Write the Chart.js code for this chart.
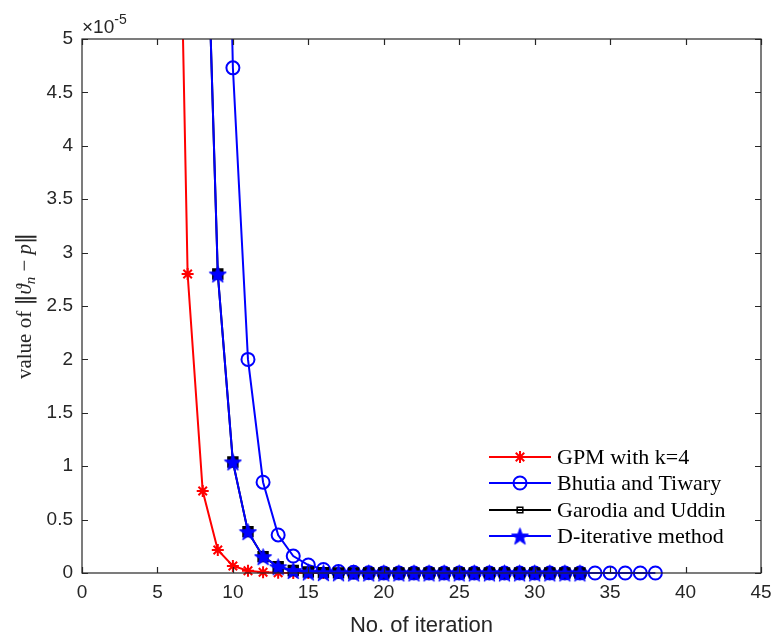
<!DOCTYPE html>
<html>
<head>
<meta charset="utf-8">
<script src="https://cdn.jsdelivr.net/npm/chart.js@4.4.0/dist/chart.umd.min.js"></script>
<style>
html, body { margin: 0; background: #fff; }
canvas { display: block; }
</style>
</head>
<body>
<canvas id="grafico" width="773" height="637"></canvas>
<script>
// first iteration of each series
const gpmStart = 6;
const bhutiaStart = 9;
const garodiaStart = 8;
const dIterStart = 8;

// ||theta_n - p|| per iteration
const gpmVals = [10.0e-5, 2.80e-5, 7.68e-6, 2.15e-6, 6.6e-7, 2.1e-7, 7e-8, 2.2e-8, 7e-9, 2e-9, 7e-10, 2e-10,
    0, 0, 0, 0, 0, 0, 0, 0, 0, 0, 0, 0, 0, 0, 0, 0];
const bhutiaVals = [11.2e-5, 4.73e-5, 2.00e-5, 8.5e-6, 3.56e-6, 1.59e-6, 7.5e-7, 3.3e-7, 1.4e-7, 6e-8, 2.5e-8,
    1e-8, 4e-9, 1.7e-9, 7e-10, 3e-10, 1e-10, 0, 0, 0, 0, 0, 0, 0, 0, 0, 0, 0, 0, 0];
const garodiaVals = [7.5e-5, 2.80e-5, 1.04e-5, 3.87e-6, 1.53e-6, 5.9e-7, 2.3e-7, 9e-8, 3.5e-8, 1.4e-8, 5e-9,
    2e-9, 8e-10, 3e-10, 1e-10, 0, 0, 0, 0, 0, 0, 0, 0, 0, 0, 0];
const dIterVals = [7.5e-5, 2.80e-5, 1.04e-5, 3.87e-6, 1.53e-6, 5.9e-7, 2.3e-7, 9e-8, 3.5e-8, 1.4e-8, 5e-9,
    2e-9, 8e-10, 3e-10, 1e-10, 0, 0, 0, 0, 0, 0, 0, 0, 0, 0, 0];

const seriesNames = ['GPM with k=4', 'Bhutia and Tiwary', 'Garodia and Uddin', 'D-iterative method'];

const xMin = 0, xMax = 45, xStep = 5;
const yMin = 0, yMax = 5e-5, yStep = 0.5e-5;

const toPoints = (start, vals) => vals.map((v, i) => ({ x: start + i, y: v }));

const axisColor = '#262626';
const sans = '"Liberation Sans", Arial, sans-serif';
const serif = '"Liberation Serif", "DejaVu Serif", serif';

// filled pentagram marker
function pentagram(size, color) {
    const c = document.createElement('canvas');
    c.width = size;
    c.height = size;
    const g = c.getContext('2d');
    const R = size / 2 - 0.5, r = R * 0.4;
    g.beginPath();
    for (let i = 0; i < 10; i++) {
        const a = -Math.PI / 2 + i * Math.PI / 5;
        const rad = i % 2 ? r : R;
        const px = size / 2 + rad * Math.cos(a), py = size / 2 + 1 + rad * Math.sin(a);
        if (i === 0) g.moveTo(px, py); else g.lineTo(px, py);
    }
    g.closePath();
    g.fillStyle = color;
    g.fill();
    g.strokeStyle = color;
    g.lineWidth = 1;
    g.stroke();
    return c;
}
const starImg = pentagram(19, '#0000ff');

// box around the axes with inward ticks
const framePlugin = {
    id: 'frame',
    afterDatasetsDraw(chart) {
        const { ctx, chartArea: a, scales: { x, y } } = chart;
        ctx.save();
        ctx.strokeStyle = axisColor;
        ctx.lineWidth = 1.2;
        ctx.strokeRect(a.left, a.top, a.right - a.left, a.bottom - a.top);
        const len = 6;
        ctx.beginPath();
        x.ticks.forEach(t => {
            const px = Math.round(x.getPixelForValue(t.value)) + 0.5;
            ctx.moveTo(px, a.bottom); ctx.lineTo(px, a.bottom - len);
            ctx.moveTo(px, a.top); ctx.lineTo(px, a.top + len);
        });
        y.ticks.forEach(t => {
            const py = Math.round(y.getPixelForValue(t.value)) + 0.5;
            ctx.moveTo(a.left, py); ctx.lineTo(a.left + len, py);
            ctx.moveTo(a.right, py); ctx.lineTo(a.right - len, py);
        });
        ctx.stroke();

        // exponent above the y axis
        ctx.fillStyle = axisColor;
        ctx.textBaseline = 'alphabetic';
        ctx.textAlign = 'left';
        ctx.font = '19px ' + sans;
        ctx.fillText('\u00d710', a.left, a.top - 6);
        const w = ctx.measureText('\u00d710').width;
        ctx.font = '14px ' + sans;
        ctx.fillText('-5', a.left + w, a.top - 15);

        // x axis title
        ctx.font = '22px ' + sans;
        ctx.textAlign = 'center';
        ctx.fillText('No. of iteration', (a.left + a.right) / 2, 632);

        // y axis title: value of ||theta_n - p||
        const bars = '22px "DejaVu Sans", sans-serif';
        const parts = [
            ['value of ', '21px ' + serif, 0],
            ['\u2016', bars, 0],
            ['\u03d1', 'italic 21px ' + serif, 0],
            ['n', 'italic 15px ' + serif, 4],
            [' \u2212 ', '21px ' + serif, 0],
            ['p', 'italic 21px ' + serif, 0],
            ['\u2016', bars, 0]
        ];
        let total = 0;
        parts.forEach(p => { ctx.font = p[1]; total += ctx.measureText(p[0]).width; });
        ctx.translate(31, (a.top + a.bottom) / 2);
        ctx.rotate(-Math.PI / 2);
        ctx.textAlign = 'left';
        let cx = -total / 2;
        parts.forEach(p => {
            ctx.font = p[1];
            ctx.fillText(p[0], cx, p[2]);
            cx += ctx.measureText(p[0]).width;
        });
        ctx.restore();
    }
};

// legend entries: line sample with marker, then the name
const legendPlugin = {
    id: 'legendBox',
    afterDraw(chart) {
        const { ctx } = chart;
        const rows = [457, 483, 510, 536];
        const x0 = 489, x1 = 551, xm = 520, xt = 557;
        ctx.save();
        chart.data.datasets.forEach((ds, i) => {
            const yy = rows[i];
            ctx.strokeStyle = ds.borderColor;
            ctx.lineWidth = ds.borderWidth;
            ctx.beginPath();
            ctx.moveTo(x0, yy);
            ctx.lineTo(x1, yy);
            ctx.stroke();
            ctx.strokeStyle = ds.pointBorderColor;
            ctx.fillStyle = i === 2 ? 'rgba(0,0,0,0)' : ds.pointBackgroundColor;
            ctx.lineWidth = ds.pointBorderWidth;
            Chart.helpers.drawPoint(ctx, {
                pointStyle: ds.pointStyle,
                radius: i === 2 ? 4 : ds.pointRadius,
                borderWidth: ds.pointBorderWidth,
                rotation: 0
            }, xm, yy);
            ctx.fillStyle = '#000';
            ctx.font = '22px ' + serif;
            ctx.textAlign = 'left';
            ctx.textBaseline = 'middle';
            ctx.fillText(seriesNames[i], xt, yy + 1);
        });
        ctx.restore();
    }
};

const bottomClip = { left: false, right: false, top: 0, bottom: 20 };

new Chart(document.getElementById('grafico'), {
    type: 'line',
    data: {
        datasets: [{
            label: seriesNames[0],
            data: toPoints(gpmStart, gpmVals),
            borderColor: '#ff0000',
            borderWidth: 2,
            pointStyle: 'star',
            pointRadius: 6,
            pointBorderColor: '#ff0000',
            pointBackgroundColor: '#ff0000',
            pointBorderWidth: 2,
            clip: bottomClip,
            order: 4
        }, {
            label: seriesNames[1],
            data: toPoints(bhutiaStart, bhutiaVals),
            borderColor: '#0000ff',
            borderWidth: 2,
            pointStyle: 'circle',
            pointRadius: 6.5,
            pointBorderColor: '#0000ff',
            pointBackgroundColor: 'rgba(0,0,0,0)',
            pointBorderWidth: 2,
            clip: bottomClip,
            order: 3
        }, {
            label: seriesNames[2],
            data: toPoints(garodiaStart, garodiaVals),
            borderColor: '#000000',
            borderWidth: 2,
            pointStyle: 'rect',
            pointRadius: 7,
            pointBorderColor: '#000000',
            pointBackgroundColor: '#000000',
            pointBorderWidth: 1.5,
            clip: bottomClip,
            order: 2
        }, {
            label: seriesNames[3],
            data: toPoints(dIterStart, dIterVals),
            borderColor: '#0000ff',
            borderWidth: 2,
            pointStyle: starImg,
            pointRadius: 9,
            pointBorderColor: '#0000ff',
            pointBackgroundColor: '#0000ff',
            pointBorderWidth: 1,
            clip: bottomClip,
            order: 1
        }]
    },
    options: {
        responsive: false,
        animation: false,
        devicePixelRatio: 1,
        layout: { padding: { top: 39, right: 12, left: 0, bottom: 0 } },
        elements: { line: { tension: 0 } },
        plugins: {
            legend: { display: false },
            tooltip: { enabled: false }
        },
        scales: {
            x: {
                type: 'linear',
                min: xMin,
                max: xMax,
                grid: { display: false, drawTicks: false },
                border: { display: false },
                ticks: {
                    stepSize: xStep,
                    padding: 8,
                    color: axisColor,
                    maxRotation: 0,
                    font: { family: sans, size: 19 }
                },
                afterFit: s => { s.height = 64; s.paddingLeft = 0; s.paddingRight = 0; }
            },
            y: {
                min: yMin,
                max: yMax,
                grid: { display: false, drawTicks: false },
                border: { display: false },
                ticks: {
                    stepSize: yStep,
                    padding: 9,
                    color: axisColor,
                    font: { family: sans, size: 19 },
                    callback: v => String(Math.round(v * 1e6) / 10)
                },
                afterFit: s => { s.width = 82; s.paddingTop = 0; s.paddingBottom = 0; }
            }
        }
    },
    plugins: [framePlugin, legendPlugin]
});
</script>
</body>
</html>
